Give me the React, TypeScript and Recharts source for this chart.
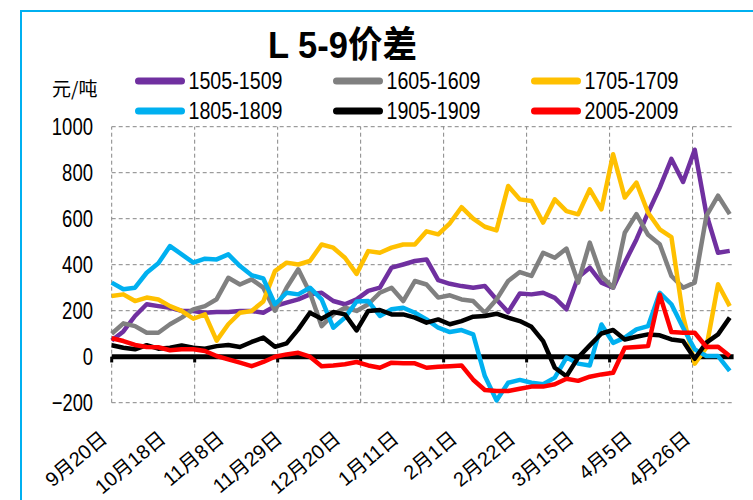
import { LineChart, Line, XAxis, YAxis, CartesianGrid, ReferenceLine, Legend } from 'recharts';

// x-axis labels, one every 15 trading days
const dateLabels = ['9月20日', '10月18日', '11月8日', '11月29日', '12月20日', '1月11日', '2月1日', '2月22日', '3月15日', '4月5日', '4月26日'];
const LABEL_EVERY = 15;
const STEP = 3; // one reading every 3 trading days

// spread values (元/吨)
const s1505 = [70, 110, 177, 228, 220, 213, 199, 199, 191, 194, 194, 199, 199, 191, 220, 235, 249, 271, 278, 242, 228, 249, 286, 300, 387, 401, 416, 423, 333, 317, 307, 300, 307, 249, 194, 275, 271, 278, 256, 206, 345, 387, 322, 300, 409, 510, 626, 735, 860, 760, 900, 620, 452, 460];
const s1605 = [100, 145, 133, 104, 104, 141, 170, 206, 220, 250, 343, 314, 336, 300, 200, 300, 380, 278, 133, 184, 213, 199, 228, 278, 300, 242, 329, 314, 257, 267, 249, 242, 191, 249, 329, 368, 351, 452, 430, 470, 322, 496, 351, 300, 539, 620, 530, 489, 351, 300, 322, 612, 700, 620];
const s1705 = [264, 271, 242, 257, 249, 220, 199, 165, 184, 70, 141, 191, 199, 240, 372, 409, 401, 416, 488, 474, 430, 360, 459, 452, 474, 488, 488, 545, 532, 580, 650, 600, 565, 549, 742, 684, 677, 583, 684, 633, 619, 728, 641, 880, 692, 757, 626, 554, 520, 177, -30, 40, 315, 220];
const s1805 = [322, 293, 300, 365, 406, 481, 445, 409, 426, 423, 445, 394, 354, 340, 228, 278, 271, 300, 249, 126, 170, 240, 242, 177, 206, 213, 191, 162, 126, 107, 116, 97, -84, -190, -113, -101, -113, -120, -91, -4, -30, -38, 140, 60, 83, 119, 133, 278, 228, 126, 32, 3, 3, -62];
const s1905 = [50, 39, 32, 50, 35, 39, 49, 39, 35, 46, 51, 42, 64, 83, 43, 58, 119, 191, 165, 194, 184, 114, 199, 203, 184, 184, 170, 148, 162, 141, 155, 174, 177, 187, 170, 155, 130, 68, -48, -85, -4, 49, 101, 116, 75, 87, 97, 93, 75, 68, -9, 61, 97, 170];
const s2005 = [80, 68, 51, 42, 41, 28, 32, 32, 25, 3, -12, -26, -41, -23, 0, 10, 17, 0, -41, -38, -33, -23, -38, -48, -26, -29, -29, -48, -44, -41, -38, -100, -145, -149, -149, -139, -130, -130, -120, -96, -105, -87, -77, -70, 39, 42, 46, 270, 107, 104, 104, 42, 43, 3];

const yTicks = [-200, 0, 200, 400, 600, 800, 1000];
const gridDays = [0, 21.35, 42.7, 64.05, 85.4, 106.75, 128.1, 149.45];

const SERIES = [
  { key: 's1505', name: '1505-1509', color: '#7030A0' },
  { key: 's1605', name: '1605-1609', color: '#808080' },
  { key: 's1705', name: '1705-1709', color: '#FFC000' },
  { key: 's1805', name: '1805-1809', color: '#00B0F0' },
  { key: 's1905', name: '1905-1909', color: '#000000' },
  { key: 's2005', name: '2005-2009', color: '#FF0000' },
];

const data = s1505.map((_, i) => ({
  day: i * STEP,
  s1505: s1505[i],
  s1605: s1605[i],
  s1705: s1705[i],
  s1805: s1805[i],
  s1905: s1905[i],
  s2005: s2005[i],
}));

const SANS = "'Liberation Sans', Arial, 'Noto Sans CJK SC', sans-serif";
const CJK = "'Noto Sans CJK SC', sans-serif";

const XTick = ({ x, y, payload }: any) => {
  const label = dateLabels[Math.round(payload.value / LABEL_EVERY)];
  const tx = x - 3;
  const ty = y + 30;
  return (
    <text x={tx} y={ty} transform={`rotate(-40 ${tx} ${ty})`} textAnchor="end" fontSize={20} fontFamily={SANS} fill="#000">
      {label}
    </text>
  );
};

// condensed look: squeeze glyphs to the reference's narrow widths
const YTick = ({ x, y, payload }: any) => {
  const s = String(payload.value).replace('-', '−');
  return (
    <text x={x} y={y} dy="0.36em" textAnchor="end" fontSize={24} fontFamily={SANS} fill="#000" textLength={s.length * 10.3} lengthAdjust="spacingAndGlyphs">
      {s}
    </text>
  );
};

const LegendBox = () => (
  <svg width={753} height={130}>
    {SERIES.map((s, i) => {
      const x0 = 138.5 + (i % 3) * 198;
      const y0 = 81 + Math.floor(i / 3) * 30;
      return (
        <g key={s.key}>
          <line x1={x0} x2={x0 + 43} y1={y0} y2={y0} stroke={s.color} strokeWidth={7} strokeLinecap="round" />
          <text x={x0 + 50} y={y0} dy="0.36em" fontSize={23} fontFamily={SANS} fill="#000" textLength={94} lengthAdjust="spacingAndGlyphs">
            {s.name}
          </text>
        </g>
      );
    })}
  </svg>
);

export default function App() {
  return (
    <div style={{ position: 'absolute', left: 0, top: 0, width: 753, height: 500, background: '#fff', overflow: 'hidden' }}>
      <div style={{ position: 'absolute', left: 20, top: 10, width: 760, height: 520, borderLeft: '2px solid #00B0F0', borderTop: '2px solid #00B0F0' }} />
      <svg width={753} height={130} style={{ position: 'absolute', left: 0, top: 0 }}>
        <text x={268} y={58} fontSize={37} fontWeight="bold" fontFamily={SANS} fill="#000" textLength={149} lengthAdjust="spacingAndGlyphs">
          L 5-9价差
        </text>
        <text x={52} y={96} fontSize={19} fontFamily={CJK} fill="#000">
          元/吨
        </text>
      </svg>
      <div style={{ position: 'absolute', left: 0, top: 0 }}>
        <LineChart width={753} height={500} data={data} margin={{ top: 126.7, right: 19.4, bottom: 7.3, left: 51.7 }}>
          <CartesianGrid vertical={false} stroke="#868686" strokeDasharray="4 3" />
          {gridDays.map((g) => (
            <ReferenceLine key={`g${g}`} x={g} stroke="#868686" strokeDasharray="4 3" />
          ))}
          <XAxis
            dataKey="day"
            type="number"
            domain={[0, 160]}
            ticks={dateLabels.map((_, i) => i * LABEL_EVERY)}
            interval={0}
            axisLine={false}
            tickLine={false}
            height={90}
            tick={<XTick />}
          />
          <YAxis
            domain={[-200, 1000]}
            ticks={yTicks}
            interval={0}
            axisLine={false}
            tickLine={false}
            width={60}
            tickMargin={12.7}
            tick={<YTick />}
          />
          <ReferenceLine y={0} stroke="#000" strokeWidth={5} />
          {gridDays.map((g) => (
            <ReferenceLine key={`t${g}`} segment={[{ x: g, y: 0 }, { x: g, y: -25 }]} stroke="#000" strokeWidth={3} />
          ))}
          <Legend layout="horizontal" verticalAlign="middle" content={<LegendBox />} wrapperStyle={{ position: 'absolute', top: 0, left: 0, width: 753, height: 130 }} />
          {SERIES.map((s) => (
            <Line
              key={s.key}
              type="linear"
              dataKey={s.key}
              name={s.name}
              stroke={s.color}
              strokeWidth={4.5}
              strokeLinejoin="round"
              dot={false}
              activeDot={false}
              isAnimationActive={false}
            />
          ))}
        </LineChart>
      </div>
    </div>
  );
}
